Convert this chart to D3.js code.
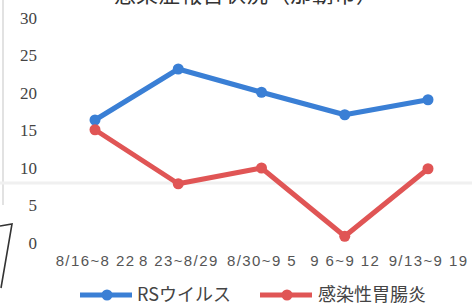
<!DOCTYPE html>
<html><head><meta charset="utf-8">
<script src="https://cdn.jsdelivr.net/npm/d3@7"></script>
<style>html,body{margin:0;padding:0;background:#fff;}svg{display:block;}</style>
</head><body>
<script>
const title = "感染症報告状況（那覇市）";
const categories = ["8/16~8 22", "8 23~8/29", "8/30~9 5", "9 6~9 12", "9/13~9 19"];
const seriesNames = ["RSウイルス", "感染性胃腸炎"];
const rsValues = [16.4, 23.2, 20.1, 17.1, 19.1];
const gastroValues = [15.1, 7.9, 10.0, 0.9, 9.9];
const yTicks = [0, 5, 10, 15, 20, 25, 30];
const colors = ["#3a7fd5", "#e05555"];

const W = 472, H = 303;
const svg = d3.select("body").append("svg").attr("width", W).attr("height", H);

// scan artifacts
svg.append("line").attr("x1", 3).attr("x2", 3).attr("y1", 0).attr("y2", 205)
  .attr("stroke", "#e2e2e2").attr("stroke-width", 2);
svg.append("line").attr("x1", 0).attr("x2", W).attr("y1", 183).attr("y2", 183)
  .attr("stroke", "#f0f0f0").attr("stroke-width", 3);
svg.append("path").attr("d", "M0,226 L12,224 L1,288").attr("fill", "none")
  .attr("stroke", "#333").attr("stroke-width", 1.6);

const x = d3.scalePoint().domain(categories).range([95, 428]);
const y = d3.scaleLinear().domain([0, 30]).range([243, 18]);

// title (cut off at top)
svg.append("text").attr("x", 246).attr("y", 2).attr("text-anchor", "middle")
  .attr("font-family", "Noto Sans CJK JP").attr("font-size", 22).attr("fill", "#333")
  .text(title);

// y axis labels
const yAxis = d3.axisLeft(y).tickValues(yTicks).tickSize(0).tickPadding(0);
const gy = svg.append("g").attr("transform", "translate(37,0)").call(yAxis);
gy.select(".domain").remove();
gy.selectAll("text").attr("font-family", "Liberation Serif").attr("font-size", 17)
  .attr("fill", "#444");

// x axis labels
const xAxis = d3.axisBottom(x).tickSize(0).tickPadding(0);
const gx = svg.append("g").attr("transform", "translate(0,255)").call(xAxis);
gx.select(".domain").remove();
gx.selectAll("text").attr("font-family", "Liberation Sans").attr("font-size", 15)
  .attr("fill", "#555").attr("letter-spacing", 1.4);

const series = [rsValues, gastroValues];
const line = d3.line().x((d, i) => x(categories[i])).y(d => y(d));
series.forEach((vals, si) => {
  svg.append("path").datum(vals).attr("d", line).attr("fill", "none")
    .attr("stroke", colors[si]).attr("stroke-width", 5).attr("stroke-linejoin", "round");
  svg.selectAll(null).data(vals).enter().append("circle")
    .attr("cx", (d, i) => x(categories[i])).attr("cy", d => y(d)).attr("r", 5.5)
    .attr("fill", colors[si]);
});

// legend
const legendItems = [{x: 80, tx: 137}, {x: 260, tx: 318}];
legendItems.forEach((it, i) => {
  const g = svg.append("g");
  g.append("line").attr("x1", it.x).attr("x2", it.x + 52).attr("y1", 295).attr("y2", 295)
    .attr("stroke", colors[i]).attr("stroke-width", 5);
  g.append("circle").attr("cx", it.x + 27).attr("cy", 295).attr("r", 5.5).attr("fill", colors[i]);
  g.append("text").attr("x", it.tx).attr("y", 301).attr("font-family", "Noto Sans CJK JP")
    .attr("font-size", 18).attr("fill", "#444").text(seriesNames[i]);
});
</script>
</body></html>
